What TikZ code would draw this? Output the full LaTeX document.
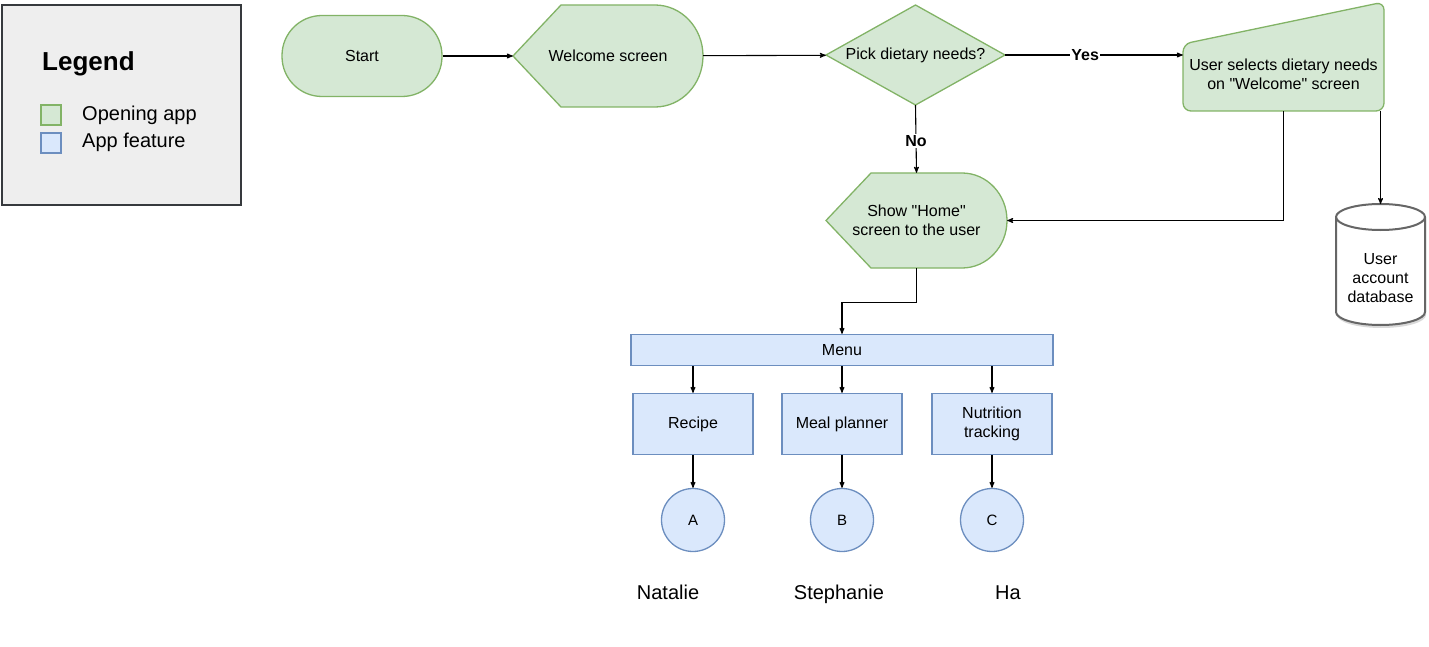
\documentclass[tikz,border=0pt]{standalone}
\usepackage{fontspec}
\setmainfont{Liberation Sans}
\usetikzlibrary{calc}
\usetikzlibrary{arrows}
\usetikzlibrary{shadows}
\definecolor{openfill}{HTML}{D5E8D4}
\definecolor{openline}{HTML}{82B366}
\definecolor{featfill}{HTML}{DAE8FC}
\definecolor{featline}{HTML}{6C8EBF}
\definecolor{legfill}{HTML}{EEEEEE}
\definecolor{legline}{HTML}{36393D}
\definecolor{dbline}{HTML}{666666}
\tikzset{
 every node/.style={font=\fontsize{16}{19}\selectfont, align=center, inner sep=0},
 opening/.style={fill=openfill, draw=openline, line width=1.3},
 feature/.style={fill=featfill, draw=featline, line width=1.3},
 conn/.style={black, line width=1.1, ->, >=stealth'},
 tag/.style={fill=white, inner sep=1, font=\fontsize{16}{19}\selectfont\bfseries},
 bigtext/.style={font=\fontsize{20}{24}\selectfont},
}
\begin{document}
\begin{tikzpicture} [x=1pt, y=-1pt]
\useasboundingbox (0,0) rectangle (1429,647);
% legend
\draw[fill=legfill, draw=legline, line width=2] (2,5) rectangle (241,205);
\node[anchor=west, font=\fontsize{26}{30}\selectfont\bfseries] (leg) at (42,64) {Legend};
\draw[opening] (41,105) rectangle (61,125);
\draw[feature] (41,133) rectangle (61,153);
\node[anchor=west, bigtext] (legopen) at (82,115) {Opening app};
\node[anchor=west, bigtext] (legfeat) at (82,142) {App feature};
% top row
\node[opening, rounded corners=40, minimum width=160, minimum height=81] (start) at (362,56) {Start};
\draw[opening] (513,56) -- (561,5) -- (655,5) arc[start angle=-90, end angle=90, x radius=48, y radius=51] -- (561,107) -- cycle;
\node[minimum width=190, minimum height=102] (welcome) at (608,56) {Welcome screen};
\draw[opening] (826,55) -- (915.5,5) -- (1005,55) -- (915.5,105) -- cycle;
\node[minimum width=179, minimum height=100] (pick) at (915.5,55) {Pick dietary needs?};
\draw[opening, rounded corners=8] (1183,44) -- (1384,2) -- (1384,111) -- (1183,111) -- cycle;
\node[minimum width=201, minimum height=74] (sel) at (1283.5,74) {User selects dietary needs\\on \textquotedbl Welcome\textquotedbl{} screen};
% home screen
\draw[opening] (826,220.5) -- (871,173) -- (962,173) arc[start angle=-90, end angle=90, x radius=45, y radius=47.5] -- (871,268) -- cycle;
\node[minimum width=181, minimum height=95] (home) at (916.5,220.5) {Show \textquotedbl Home\textquotedbl\\screen to the user};
% database
\draw[draw=dbline, fill=white, line width=2, drop shadow={opacity=0.3, shadow xshift=1pt, shadow yshift=-3pt}]
 (1336,217) -- (1336,312) arc[start angle=180, end angle=0, x radius=44.5, y radius=13]
 -- (1425,217) arc[start angle=0, end angle=-180, x radius=44.5, y radius=13] -- cycle;
\draw[draw=dbline, line width=2] (1336,217) arc[start angle=180, end angle=0, x radius=44.5, y radius=13];
\node (db) at (1380.5,278) {User\\account\\database};
\coordinate (dbtop) at (1380.5,204);
% features
\node[feature, minimum width=422, minimum height=31] (menu) at (842,350) {Menu};
\node[feature, minimum width=120, minimum height=61] (recipe) at (693,424) {Recipe};
\node[feature, minimum width=120, minimum height=61] (meal) at (842,424) {Meal planner};
\node[feature, minimum width=120, minimum height=61] (nutri) at (992,424) {Nutrition\\tracking};
\node[feature, circle, minimum size=63, font=\fontsize{15}{18}\selectfont] (a) at (693,520) {A};
\node[feature, circle, minimum size=63, font=\fontsize{15}{18}\selectfont] (b) at (842,520) {B};
\node[feature, circle, minimum size=63, font=\fontsize{15}{18}\selectfont] (c) at (992,520) {C};
\node[bigtext, anchor=base] (natalie) at (668,599) {Natalie};
\node[bigtext, anchor=base] (stephanie) at (839,599) {Stephanie};
\node[bigtext, anchor=base] (ha) at (1008,599) {Ha};
% connectors
\draw[conn] (start) -- (welcome);
\draw[conn] (welcome) -- (pick);
\draw[conn] (pick.east) -- node[tag, pos=0.45] {Yes} (pick.east -| sel.west);
\draw[conn] (pick.south) -- node[tag, pos=0.53] {No} (home.north);
\draw[conn] (sel.south) |- (home.east);
\draw[conn] (sel.south -| dbtop) -- (dbtop);
\draw[conn] (home.south) -- ++(0,34) -| (menu.north);
\foreach \b/\c in {recipe/a, meal/b, nutri/c} {
 \draw[conn] (menu.south -| \b.north) -- (\b.north);
 \draw[conn] (\b) -- (\c);
}
\end{tikzpicture}
\end{document}
